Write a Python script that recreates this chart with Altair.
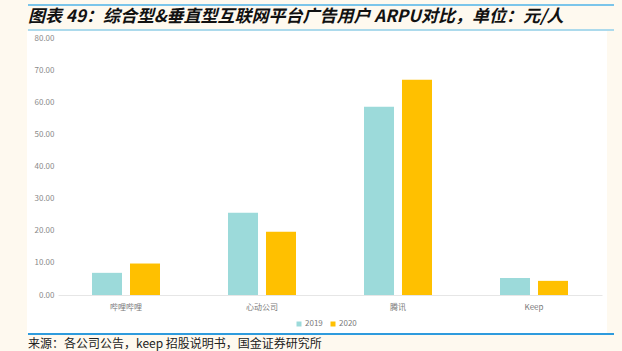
import altair as alt
import pandas as pd

categories = ["哔哩哔哩", "心动公司", "腾讯", "Keep"]
years = ["2019", "2020"]
values_2019 = [6.9, 25.6, 58.6, 5.3]
values_2020 = [9.8, 19.7, 67.0, 4.4]
y_ticks = [0, 10, 20, 30, 40, 50, 60, 70, 80]

title_text = "图表 49：综合型&垂直型互联网平台广告用户 ARPU对比，单位：元/人"
source_text = "来源：各公司公告，keep 招股说明书，国金证券研究所"

rows = []
for c, a, b in zip(categories, values_2019, values_2020):
    rows.append({"cat": c, "year": years[0], "v": a})
    rows.append({"cat": c, "year": years[1], "v": b})
df = pd.DataFrame(rows)
one = pd.DataFrame({"t": [title_text], "s": [source_text]})

W, H = 544, 257
FONT = "Noto Sans CJK SC"

box = alt.Chart(one).mark_rect(fill="white").encode(
    x=alt.value(-31), x2=alt.value(549), y=alt.value(-7), y2=alt.value(295)
)
line_top = alt.Chart(one).mark_rule(color="#4FB3E8", strokeWidth=1.5).encode(
    x=alt.value(-30), x2=alt.value(556), y=alt.value(-33)
)
line_mid = alt.Chart(one).mark_rule(color="#5BBBEA", strokeWidth=1.2).encode(
    x=alt.value(-30), x2=alt.value(556), y=alt.value(-8)
)
line_bot = alt.Chart(one).mark_rule(color="#2E9BDD", strokeWidth=2).encode(
    x=alt.value(-30), x2=alt.value(556), y=alt.value(296)
)
title = alt.Chart(one).mark_text(
    font=FONT, fontSize=17, fontWeight="bold", fontStyle="italic",
    align="left", baseline="middle", color="#111111"
).encode(x=alt.value(-30), y=alt.value(-21), text="t:N")
source = alt.Chart(one).mark_text(
    font=FONT, fontSize=12, align="left", baseline="middle", color="#222222"
).encode(x=alt.value(-30), y=alt.value(306), text="s:N")

bars = alt.Chart(df).mark_bar().encode(
    x=alt.X("cat:N", sort=categories, title=None,
            scale=alt.Scale(paddingInner=0.5, paddingOuter=0.25),
            axis=alt.Axis(labelAngle=0, labelFont=FONT, labelFontSize=8,
                          labelColor="#7a7a7a", domainColor="#e6e6e6",
                          domainWidth=1, ticks=False, labelPadding=8, zindex=1)),
    xOffset=alt.XOffset("year:N", sort=years,
                        scale=alt.Scale(paddingInner=0.21, paddingOuter=0)),
    y=alt.Y("v:Q", title=None,
            scale=alt.Scale(domain=[0, 80], nice=False),
            axis=alt.Axis(values=y_ticks, format=".2f", grid=False,
                          domain=False, ticks=False, labelFont=FONT,
                          labelFontSize=8, labelColor="#8a8a8a",
                          labelPadding=4, zindex=1)),
    color=alt.Color("year:N", sort=years,
                    scale=alt.Scale(domain=years, range=["#9CDADA", "#FFC000"]),
                    legend=alt.Legend(title=None, orient="none", direction="horizontal",
                                      legendX=237, legendY=282, symbolType="square",
                                      symbolSize=25, labelFontSize=8, labelFont=FONT,
                                      labelColor="#7a7a7a", columnPadding=6,
                                      symbolStrokeWidth=0, labelOffset=2)),
)

chart = alt.layer(box, line_top, line_mid, line_bot, title, source, bars).properties(
    width=W, height=H, padding={"left": 58, "top": 38, "right": 20, "bottom": 56},
    background="#FEF9EF",
    autosize=alt.AutoSizeParams(type="none"),
).configure_view(strokeWidth=0)

chart.save("out.html", embed_options={"renderer": "svg", "actions": False})
